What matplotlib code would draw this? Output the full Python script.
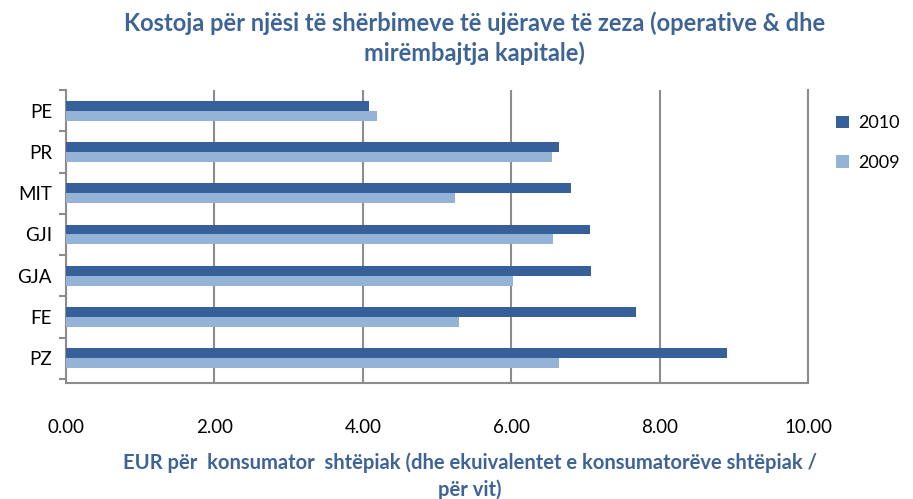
import numpy as np
import matplotlib.pyplot as plt

plt.rcParams['font.family'] = ['Lato', 'DejaVu Sans']

categories = ['PZ', 'FE', 'GJA', 'GJI', 'MIT', 'PR', 'PE']
v2010 = [8.91, 7.68, 7.08, 7.06, 6.80, 6.64, 4.08]
v2009 = [6.64, 5.29, 6.03, 6.57, 5.24, 6.55, 4.19]
xticks = [0, 2, 4, 6, 8, 10]

c2010 = '#36609A'
c2009 = '#95B3D7'
tcol = '#3E6496'
gcol = '#8C8C8C'

fig = plt.figure(figsize=(9.13, 4.99), dpi=100)
ax = fig.add_axes([66 / 913, 1 - 383 / 499, (808 - 66) / 913, (383 - 90) / 499])

y = np.arange(len(categories))
h = 0.24
ax.barh(y + h / 2, v2010, height=h, color=c2010, label='2010', zorder=3)
ax.barh(y - h / 2, v2009, height=h, color=c2009, label='2009', zorder=3)

ax.set_xlim(0, 10)
ax.set_ylim(-0.6, 6.42)
ax.set_xticks(xticks)
ax.set_xticklabels(['%.2f' % t for t in xticks], fontsize=13.5)
ax.set_yticks(y)
ax.set_yticklabels(categories, fontsize=13.5)
ax.set_yticks(np.arange(-0.5, 6.6, 1), minor=True)
ax.tick_params(axis='x', length=0, pad=26)
ax.tick_params(axis='y', which='major', length=0, pad=10)
ax.tick_params(axis='y', which='minor', length=5, color=gcol, width=1.5)
ax.xaxis.grid(True, color=gcol, linewidth=1.5, zorder=0)

for s in ['top']:
    ax.spines[s].set_visible(False)
for s in ['left', 'bottom', 'right']:
    ax.spines[s].set_color(gcol)
    ax.spines[s].set_linewidth(1.5)

fig.text(0.52, 0.978, 'Kostoja për njësi të shërbimeve të ujërave të zeza (operative & dhe\nmirëmbajtja kapitale)',
         ha='center', va='top', fontsize=17, fontweight='bold', color=tcol, linespacing=1.35)
fig.text(0.515, 0.093, 'EUR për  konsumator  shtëpiak (dhe ekuivalentet e konsumatorëve shtëpiak /\npër vit)',
         ha='center', va='top', fontsize=14.5, fontweight='bold', color=tcol, linespacing=1.35)

leg = fig.legend(loc='upper left', bbox_to_anchor=(0.91, 0.78), frameon=False, fontsize=13,
                 handlelength=0.7, handleheight=0.7, labelspacing=1.3, handletextpad=0.5,
                 borderaxespad=0, borderpad=0.3)

fig.savefig('out.png', dpi=100)
